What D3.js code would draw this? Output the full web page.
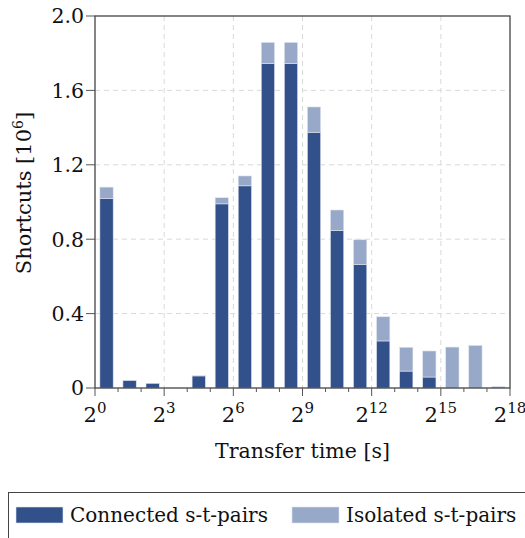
<!DOCTYPE html>
<html><head><meta charset="utf-8">
<script src="https://cdn.jsdelivr.net/npm/d3@7"></script>
<style>body{margin:0;background:#fff}svg{display:block}text{font-family:"DejaVu Serif",serif;fill:#111}</style>
</head><body><svg id="c" width="525" height="538"></svg>
<script>
const exponents = [0,1,2,3,4,5,6,7,8,9,10,11,12,13,14,15,16,17];
const connected = [1.02,0.04,0.025,0,0.065,0.99,1.087,1.745,1.745,1.375,0.846,0.665,0.253,0.091,0.059,0,0,0];
const isolated  = [0.06,0,0,0,0.003,0.033,0.053,0.113,0.113,0.136,0.111,0.132,0.13,0.128,0.14,0.22,0.229,0.008];
const yTicks = [0,0.4,0.8,1.2,1.6,2.0];
const xMajor = [0,3,6,9,12,15,18];
const seriesNames = ["Connected s-t-pairs","Isolated s-t-pairs"];
const colors = ["#32508a","#98a8c8"];

const svg = d3.select("#c");
const m = {l:95,t:16,r:510,b:388};
const x = d3.scaleLinear().domain([0,18]).range([m.l,m.r]);
const y = d3.scaleLinear().domain([0,2]).range([m.b,m.t]);

// grid
const g = svg.append("g");
g.selectAll("line.gy").data(yTicks.filter(d=>d>0&&d<2)).join("line")
 .attr("x1",m.l).attr("x2",m.r).attr("y1",d=>y(d)).attr("y2",d=>y(d))
 .attr("stroke","#d9d9d9").attr("stroke-dasharray","5,4");
g.selectAll("line.gx").data(xMajor.filter(d=>d>0&&d<18)).join("line")
 .attr("x1",d=>x(d)).attr("x2",d=>x(d)).attr("y1",m.t).attr("y2",m.b)
 .attr("stroke","#d9d9d9").attr("stroke-dasharray","5,4");

// bars
const bw = 13.3;
const data = exponents.map((e,i)=>({e, c:connected[i], s:isolated[i]}));
const bars = svg.append("g");
bars.selectAll("rect.c").data(data.filter(d=>d.c>0)).join("rect")
 .attr("x",d=>x(d.e+0.5)-bw/2).attr("width",bw)
 .attr("y",d=>y(d.c)).attr("height",d=>y(0)-y(d.c))
 .attr("fill",colors[0]).attr("stroke","#dfe4ee").attr("stroke-width",0.6);
bars.selectAll("rect.s").data(data.filter(d=>d.s>0)).join("rect")
 .attr("x",d=>x(d.e+0.5)-bw/2).attr("width",bw)
 .attr("y",d=>y(d.c+d.s)).attr("height",d=>y(d.c)-y(d.c+d.s))
 .attr("fill",colors[1]).attr("stroke","#dfe4ee").attr("stroke-width",0.6);

// frame
svg.append("rect").attr("x",m.l).attr("y",m.t).attr("width",m.r-m.l).attr("height",m.b-m.t)
 .attr("fill","none").attr("stroke","#444").attr("stroke-width",1.3);

// y ticks
const yAxis = svg.append("g");
yTicks.forEach(t=>{
  yAxis.append("line").attr("x1",m.l-9).attr("x2",m.l).attr("y1",y(t)).attr("y2",y(t)).attr("stroke","#555").attr("stroke-width",1);
  yAxis.append("text").attr("x",m.l-11).attr("y",y(t)).attr("dy","0.36em").attr("text-anchor","end")
   .attr("font-size",20.5).text(t===0?"0":d3.format(".1f")(t));
});
// x ticks
const xAxis = svg.append("g");
exponents.concat([18]).forEach(e=>{
  const major = xMajor.includes(e);
  xAxis.append("line").attr("x1",x(e)).attr("x2",x(e)).attr("y1",m.b).attr("y2",m.b+(major?8:4)).attr("stroke","#555").attr("stroke-width",1);
});
xMajor.forEach(e=>{
  const t = xAxis.append("text").attr("x",x(e)).attr("y",422).attr("text-anchor","middle").attr("font-size",21);
  t.append("tspan").text("2");
  t.append("tspan").attr("dy",-9).attr("font-size",15).text(e);
});

// axis labels
svg.append("text").attr("x",(m.l+m.r)/2).attr("y",458).attr("text-anchor","middle").attr("font-size",20.5).text("Transfer time [s]");
const yl = svg.append("text").attr("transform",`translate(31,193) rotate(-90)`).attr("text-anchor","middle").attr("font-size",21);
yl.append("tspan").text("Shortcuts [10");
yl.append("tspan").attr("dy",-8).attr("font-size",14).text("6");
yl.append("tspan").attr("dy",8).text("]");

// legend
const lg = svg.append("g");
lg.append("rect").attr("x",8.5).attr("y",492.5).attr("width",560).attr("height",80).attr("fill","#fff").attr("stroke","#444").attr("stroke-width",1);
const lx = [16,292];
seriesNames.forEach((n,i)=>{
  lg.append("rect").attr("x",lx[i]).attr("y",507).attr("width",47).attr("height",16).attr("fill",colors[i]).attr("stroke","#dfe4ee").attr("stroke-width",0.6);
  lg.append("text").attr("x",lx[i]+54).attr("y",522).attr("font-size",20).text(n);
});
</script></body></html>
